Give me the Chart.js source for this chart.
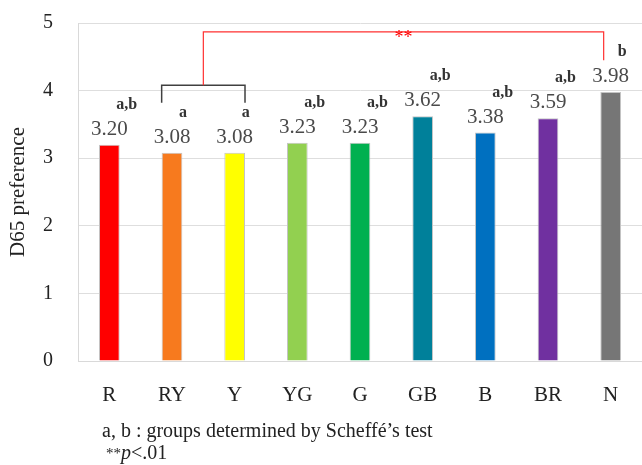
<!DOCTYPE html>
<html>
<head>
<meta charset="utf-8">
<script src="https://cdn.jsdelivr.net/npm/chart.js@4/dist/chart.umd.min.js"></script>
<style>
  html, body { margin: 0; padding: 0; background: #fff; }
  #wrap { width: 642px; height: 465px; position: relative; }
</style>
</head>
<body>
<div id="wrap"><canvas id="d65chart"></canvas></div>
<script>
var categories = ["R", "RY", "Y", "YG", "G", "GB", "B", "BR", "N"];
var preference = [3.20, 3.08, 3.08, 3.23, 3.23, 3.62, 3.38, 3.59, 3.98];
var valueLabels = ["3.20", "3.08", "3.08", "3.23", "3.23", "3.62", "3.38", "3.59", "3.98"];
var groups = ["a,b", "a", "a", "a,b", "a,b", "a,b", "a,b", "a,b", "b"];
var barColors = ["#ff0000", "#f77a1e", "#ffff00", "#92d050", "#00b050", "#00809a", "#0070c0", "#7030a0", "#767676"];
var yTicks = [0, 1, 2, 3, 4, 5];

// bracket levels (in preference units)
var blackBracketTop = 4.08;
var blackBracketLeg = 3.82;
var redLineLevel = 4.87;
var redLineEnd = 4.45;

var serif = '"Liberation Serif", "Times New Roman", serif';

var labelsPlugin = {
  id: "labelsPlugin",
  afterDatasetsDraw: function(chart) {
    var ctx = chart.ctx;
    var meta = chart.getDatasetMeta(0);
    var ys = chart.scales.y;
    ctx.save();
    for (var i = 0; i < meta.data.length; i++) {
      var bar = meta.data[i];
      ctx.textAlign = "center";
      ctx.textBaseline = "alphabetic";
      ctx.fillStyle = "#4a4a4a";
      ctx.font = "21px " + serif;
      ctx.fillText(valueLabels[i], bar.x, bar.y - 10);
      ctx.textAlign = "left";
      ctx.fillStyle = "#333";
      ctx.font = "bold 16px " + serif;
      ctx.fillText(groups[i], bar.x + 7, bar.y - 36);
    }

    // black bracket over RY and Y
    var b1 = meta.data[1], b2 = meta.data[2];
    var x1 = b1.x - b1.width / 2, x2 = b2.x + b2.width / 2;
    var yTop = ys.getPixelForValue(blackBracketTop);
    var yLeg = ys.getPixelForValue(blackBracketLeg);
    ctx.strokeStyle = "#404040";
    ctx.lineWidth = 1.5;
    ctx.beginPath();
    ctx.moveTo(x1, yLeg); ctx.lineTo(x1, yTop); ctx.lineTo(x2, yTop); ctx.lineTo(x2, yLeg);
    ctx.stroke();

    // red significance line to N
    var xm = (x1 + x2) / 2;
    var bn = meta.data[8];
    var xn = bn.x - 7;
    var yRed = ys.getPixelForValue(redLineLevel);
    var yEnd = ys.getPixelForValue(redLineEnd);
    ctx.strokeStyle = "#ff3030";
    ctx.lineWidth = 1.2;
    ctx.beginPath();
    ctx.moveTo(xm, yTop); ctx.lineTo(xm, yRed); ctx.lineTo(xn, yRed); ctx.lineTo(xn, yEnd);
    ctx.stroke();
    ctx.fillStyle = "#ff0000";
    ctx.textAlign = "center";
    ctx.font = "18px " + serif;
    ctx.fillText("**", (xm + xn) / 2, yRed + 11);

    // footnote
    ctx.fillStyle = "#222";
    ctx.textAlign = "left";
    ctx.font = "20px " + serif;
    ctx.fillText("a, b : groups determined by Scheff\u00e9\u2019s test", 102, 437);
    var fx = 106;
    ctx.font = "15px " + serif;
    ctx.fillText("**", fx, 458);
    fx += ctx.measureText("**").width;
    ctx.font = "italic 20px " + serif;
    ctx.fillText("p", fx, 459);
    fx += ctx.measureText("p").width;
    ctx.font = "20px " + serif;
    ctx.fillText("<.01", fx, 459);
    ctx.restore();
  }
};

new Chart("d65chart", {
  type: "bar",
  data: {
    labels: categories,
    datasets: [{
      data: preference,
      backgroundColor: barColors,
      borderColor: "#c4c4c4",
      borderWidth: 1,
      barPercentage: 0.66,
      categoryPercentage: 0.5
    }]
  },
  options: {
    responsive: true,
    maintainAspectRatio: false,
    animation: false,
    layout: { padding: { top: 23, right: 0, left: 0, bottom: 0 } },
    plugins: {
      legend: { display: false },
      tooltip: { enabled: false }
    },
    scales: {
      x: {
        grid: { display: false },
        border: { display: true, color: "#d9d9d9" },
        ticks: { color: "#222", font: { family: serif, size: 21 }, padding: 14 },
        afterFit: function(scale) { scale.height = 104; }
      },
      y: {
        min: 0,
        max: 5,
        afterBuildTicks: function(scale) {
          scale.ticks = yTicks.map(function(v) { return { value: v }; });
        },
        grid: { color: "#dedede", drawTicks: false },
        border: { display: true, color: "#d9d9d9" },
        ticks: { color: "#222", font: { family: serif, size: 20 }, padding: 25 },
        title: {
          display: true,
          text: "D65 preference",
          color: "#222",
          font: { family: serif, size: 21 },
          padding: { top: 6, bottom: 4 }
        },
        afterFit: function(scale) {
          scale.width = 78;
          scale.paddingTop = 0;
          scale.paddingBottom = 0;
        }
      }
    }
  },
  plugins: [labelsPlugin]
});
</script>
</body>
</html>
